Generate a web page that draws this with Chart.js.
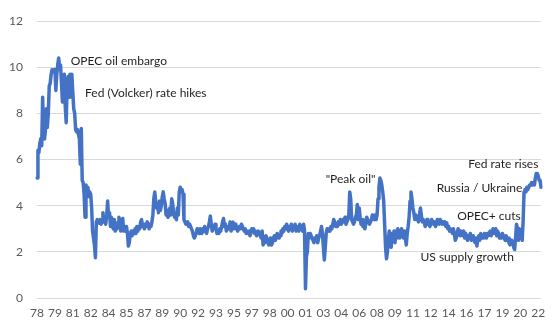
<!DOCTYPE html>
<html>
<head>
<meta charset="utf-8">
<script src="https://cdn.jsdelivr.net/npm/chart.js@4.4.1/dist/chart.umd.min.js"></script>
<style>
  html, body { margin: 0; padding: 0; background: #ffffff; }
  #wrap { width: 558px; height: 335px; }
</style>
</head>
<body>
<div id="wrap"><canvas id="chart" width="558" height="335"></canvas></div>
<script>
// Monthly series, January 1978 through August 2022 (percent).
const startYear = 1978;
const expectations = [
  5.2, 6.4, 6.3, 6.7, 6.9, 6.6, 8.7, 7.0, 6.9, 7.3, 8.2, 7.4,      // 1978
  8.0, 9.2, 9.3, 9.7, 9.9, 9.9, 9.8, 9.9, 9.0, 9.7, 10.1, 10.4,    // 1979
  10.0, 10.1, 9.3, 8.5, 9.5, 9.7, 8.3, 7.6, 9.2, 9.6, 8.7, 9.7,    // 1980
  9.6, 9.7, 8.9, 8.2, 8.0, 7.3, 7.2, 7.3, 7.1, 6.9, 5.8, 7.35,     // 1981
  5.1, 5.0, 4.5, 3.5, 4.9, 4.7, 4.8, 4.4, 4.6, 4.5, 3.9, 2.9,      // 1982
  2.6, 2.3, 1.75, 3.3, 3.4, 3.3, 3.25, 3.4, 3.2, 3.3, 3.7, 3.3,    // 1983
  3.5, 3.2, 3.6, 4.2, 3.5, 3.7, 3.1, 3.5, 3.3, 3.0, 3.4, 2.9,      // 1984
  3.1, 3.0, 3.3, 3.5, 3.2, 2.9, 3.3, 3.45, 2.9, 3.1, 2.9, 3.1,     // 1985
  2.8, 2.25, 2.4, 2.8, 2.9, 2.7, 2.9, 2.8, 3.0, 2.8, 3.1, 2.9,     // 1986
  3.1, 3.0, 3.3, 3.4, 3.1, 3.2, 3.0, 3.2, 3.1, 3.3, 3.2, 3.0,      // 1987
  3.2, 3.1, 3.3, 3.6, 4.3, 4.6, 4.2, 3.9, 4.0, 3.7, 4.2, 3.8,      // 1988
  4.0, 4.4, 4.6, 4.3, 4.1, 3.6, 3.8, 3.5, 3.6, 3.9, 3.6, 4.3,      // 1989
  4.1, 3.7, 3.5, 3.5, 3.4, 3.9, 3.6, 4.6, 4.8, 4.7, 4.7, 4.5,      // 1990
  3.4, 3.3, 3.2, 3.2, 3.3, 3.1, 3.2, 3.1, 3.0, 2.9, 2.7, 2.6,      // 1991
  2.7, 2.8, 3.0, 2.9, 2.8, 3.0, 2.9, 2.8, 3.0, 2.9, 3.1, 2.9,      // 1992
  2.8, 3.0, 3.1, 3.3, 3.55, 3.2, 2.9, 3.1, 3.0, 3.2, 3.0, 2.8,     // 1993
  2.9, 2.8, 3.0, 2.9, 3.1, 3.3, 3.45, 3.1, 3.2, 2.9, 3.0, 3.1,     // 1994
  3.0, 3.3, 2.9, 3.1, 3.3, 3.0, 3.1, 3.2, 3.0, 2.9, 3.0, 3.1,      // 1995
  3.0, 3.2, 3.1, 3.0, 2.9, 3.0, 2.8, 2.9, 2.8, 2.9, 2.7, 2.8,      // 1996
  3.0, 2.9, 3.0, 2.8, 2.9, 2.7, 2.8, 2.9, 2.8, 2.7, 2.6, 2.9,      // 1997
  2.3, 2.5, 2.4, 2.7, 2.6, 2.5, 2.3, 2.4, 2.6, 2.3, 2.4, 2.6,      // 1998
  2.7, 2.5, 2.6, 2.8, 2.7, 2.6, 2.7, 2.9, 2.8, 3.0, 2.9, 3.1,      // 1999
  3.0, 3.2, 3.0, 2.9, 3.1, 3.0, 3.2, 2.9, 3.1, 3.0, 3.2, 2.9,      // 2000
  3.0, 3.1, 2.9, 3.2, 3.0, 3.1, 2.9, 3.2, 2.9, 0.4, 1.8, 2.0,      // 2001
  2.8, 2.6, 2.8, 2.7, 2.6, 2.5, 2.4, 2.6, 2.5, 2.7, 2.4, 2.6,      // 2002
  2.7, 2.9, 3.1, 2.8, 2.2, 1.65, 2.2, 2.8, 3.0, 2.9, 3.0, 2.9,     // 2003
  3.1, 3.0, 3.2, 3.4, 3.3, 3.1, 3.2, 3.1, 3.3, 3.2, 3.4, 3.2,      // 2004
  3.3, 3.4, 3.3, 3.5, 3.2, 3.3, 3.4, 3.6, 4.6, 4.3, 3.4, 3.3,      // 2005
  3.2, 3.3, 3.5, 3.6, 4.05, 3.4, 3.9, 3.5, 3.2, 3.4, 3.1, 3.3,     // 2006
  3.0, 3.2, 3.5, 3.4, 3.3, 3.2, 3.3, 3.4, 3.6, 3.5, 3.4, 3.6,      // 2007
  3.4, 3.6, 4.3, 4.8, 5.2, 5.1, 4.9, 4.6, 4.2, 3.2, 2.2, 1.7,      // 2008
  2.0, 2.6, 2.9, 2.7, 2.2, 2.8, 2.7, 2.9, 2.4, 2.8, 2.6, 3.0,      // 2009
  2.9, 2.6, 2.8, 3.0, 2.7, 2.6, 2.9, 2.6, 2.3, 2.8, 3.1, 3.5,      // 2010
  4.2, 4.6, 4.3, 3.9, 3.7, 3.4, 3.6, 3.5, 3.4, 3.3, 3.6, 3.9,      // 2011
  3.6, 3.3, 3.4, 3.3, 3.1, 3.2, 3.4, 3.2, 3.3, 3.1, 3.2, 3.4,      // 2012
  3.3, 3.2, 3.3, 3.1, 3.2, 3.4, 3.3, 3.2, 3.4, 3.3, 3.2, 3.3,      // 2013
  3.2, 3.3, 3.1, 3.25, 3.0, 3.1, 2.9, 3.0, 2.9, 2.8, 3.0, 2.8,     // 2014
  2.5, 2.6, 2.8, 3.0, 2.9, 2.7, 2.9, 2.8, 2.7, 2.9, 2.6, 2.8,      // 2015
  2.7, 2.5, 2.7, 2.6, 2.8, 2.5, 2.6, 2.7, 2.5, 2.4, 2.6, 2.25,     // 2016
  2.6, 2.7, 2.5, 2.8, 2.6, 2.7, 2.6, 2.8, 2.7, 2.6, 2.8, 2.7,      // 2017
  2.8, 2.9, 2.7, 2.8, 3.0, 2.9, 2.8, 3.0, 2.7, 2.9, 2.8, 2.6,      // 2018
  2.7, 2.6, 2.8, 2.7, 2.6, 2.5, 2.7, 2.5, 2.6, 2.4, 2.3, 2.5,      // 2019
  2.5, 2.4, 2.2, 2.1, 2.6, 3.2, 3.0, 2.5, 3.0, 2.6, 2.8, 2.5,      // 2020
  3.3, 4.6, 4.7, 4.6, 4.8, 4.7, 4.8, 4.9, 4.9, 5.0, 4.9, 5.0,      // 2021
  4.9, 5.2, 5.4, 5.4, 5.3, 5.1, 5.1, 4.8                           // 2022
];

// Category axis labels: one per month.
const monthCategories = expectations.map((_, i) => {
  const y = startYear + Math.floor(i / 12);
  const m = (i % 12) + 1;
  return y + '-' + String(m).padStart(2, '0');
});

// Axis labels shown every 19 months along the x axis.
const xTickLabels = ['78','79','81','82','84','85','87','89','90','92','93','95','97','98',
                     '00','01','03','04','06','08','09','11','12','14','16','17','19','20','22'];
const xTickInterval = 19;
const yTicks = [0, 2, 4, 6, 8, 10, 12];

// Event notes, anchored in data space: month index and value.
const noteTexts  = ['OPEC oil embargo', 'Fed (Volcker) rate hikes', '"Peak oil"', 'US supply growth',
                    'OPEC+ cuts', 'Russia / Ukraine', 'Fed rate rises'];
const noteMonths = [35.8, 51, 306.4, 407.1, 513.5, 515.2, 532.2];
const noteValues = [10.26, 8.9, 5.16, 1.76, 3.57, 4.77, 5.8];
const noteAligns = ['left', 'left', 'left', 'left', 'right', 'right', 'right'];

const noteLayer = {
  id: 'noteLayer',
  afterDatasetsDraw(chart) {
    const { ctx, scales: { x, y } } = chart;
    ctx.save();
    ctx.font = '12px Lato, "Open Sans", sans-serif';
    ctx.fillStyle = '#1f1f1f';
    ctx.textBaseline = 'middle';
    noteTexts.forEach((t, i) => {
      ctx.textAlign = noteAligns[i];
      ctx.fillText(t, x.getPixelForValue(noteMonths[i]), y.getPixelForValue(noteValues[i]));
    });
    ctx.restore();
  }
};

const tickFont = { family: 'Lato, "Open Sans", sans-serif', size: 12 };

new Chart(document.getElementById('chart'), {
  type: 'line',
  data: {
    labels: monthCategories,
    datasets: [{
      data: expectations,
      borderColor: '#4472C4',
      borderWidth: 3.5,
      borderJoinStyle: 'round',
      borderCapStyle: 'round',
      pointRadius: 0,
      tension: 0,
      fill: false
    }]
  },
  options: {
    responsive: false,
    animation: false,
    events: [],
    layout: { padding: { top: 16, right: 17, bottom: 0, left: 0 } },
    plugins: { legend: { display: false }, tooltip: { enabled: false } },
    scales: {
      x: {
        type: 'category',
        offset: false,
        grid: { display: false, drawTicks: false },
        border: { display: false },
        ticks: {
          autoSkip: false,
          maxRotation: 0,
          minRotation: 0,
          padding: 8,
          color: '#595959',
          font: tickFont,
          callback: (v, i) => (i % xTickInterval === 0 ? xTickLabels[i / xTickInterval] : '')
        },
        afterFit(scale) { scale.height = 37; }
      },
      y: {
        min: yTicks[0],
        max: yTicks[yTicks.length - 1],
        afterBuildTicks(scale) { scale.ticks = yTicks.map(v => ({ value: v })); },
        grid: { color: '#D9D9D9', lineWidth: 1, drawTicks: false },
        border: { display: false },
        ticks: { padding: 14, color: '#595959', font: tickFont },
        afterFit(scale) { scale.width = 37; }
      }
    }
  },
  plugins: [noteLayer]
});
</script>
</body>
</html>
